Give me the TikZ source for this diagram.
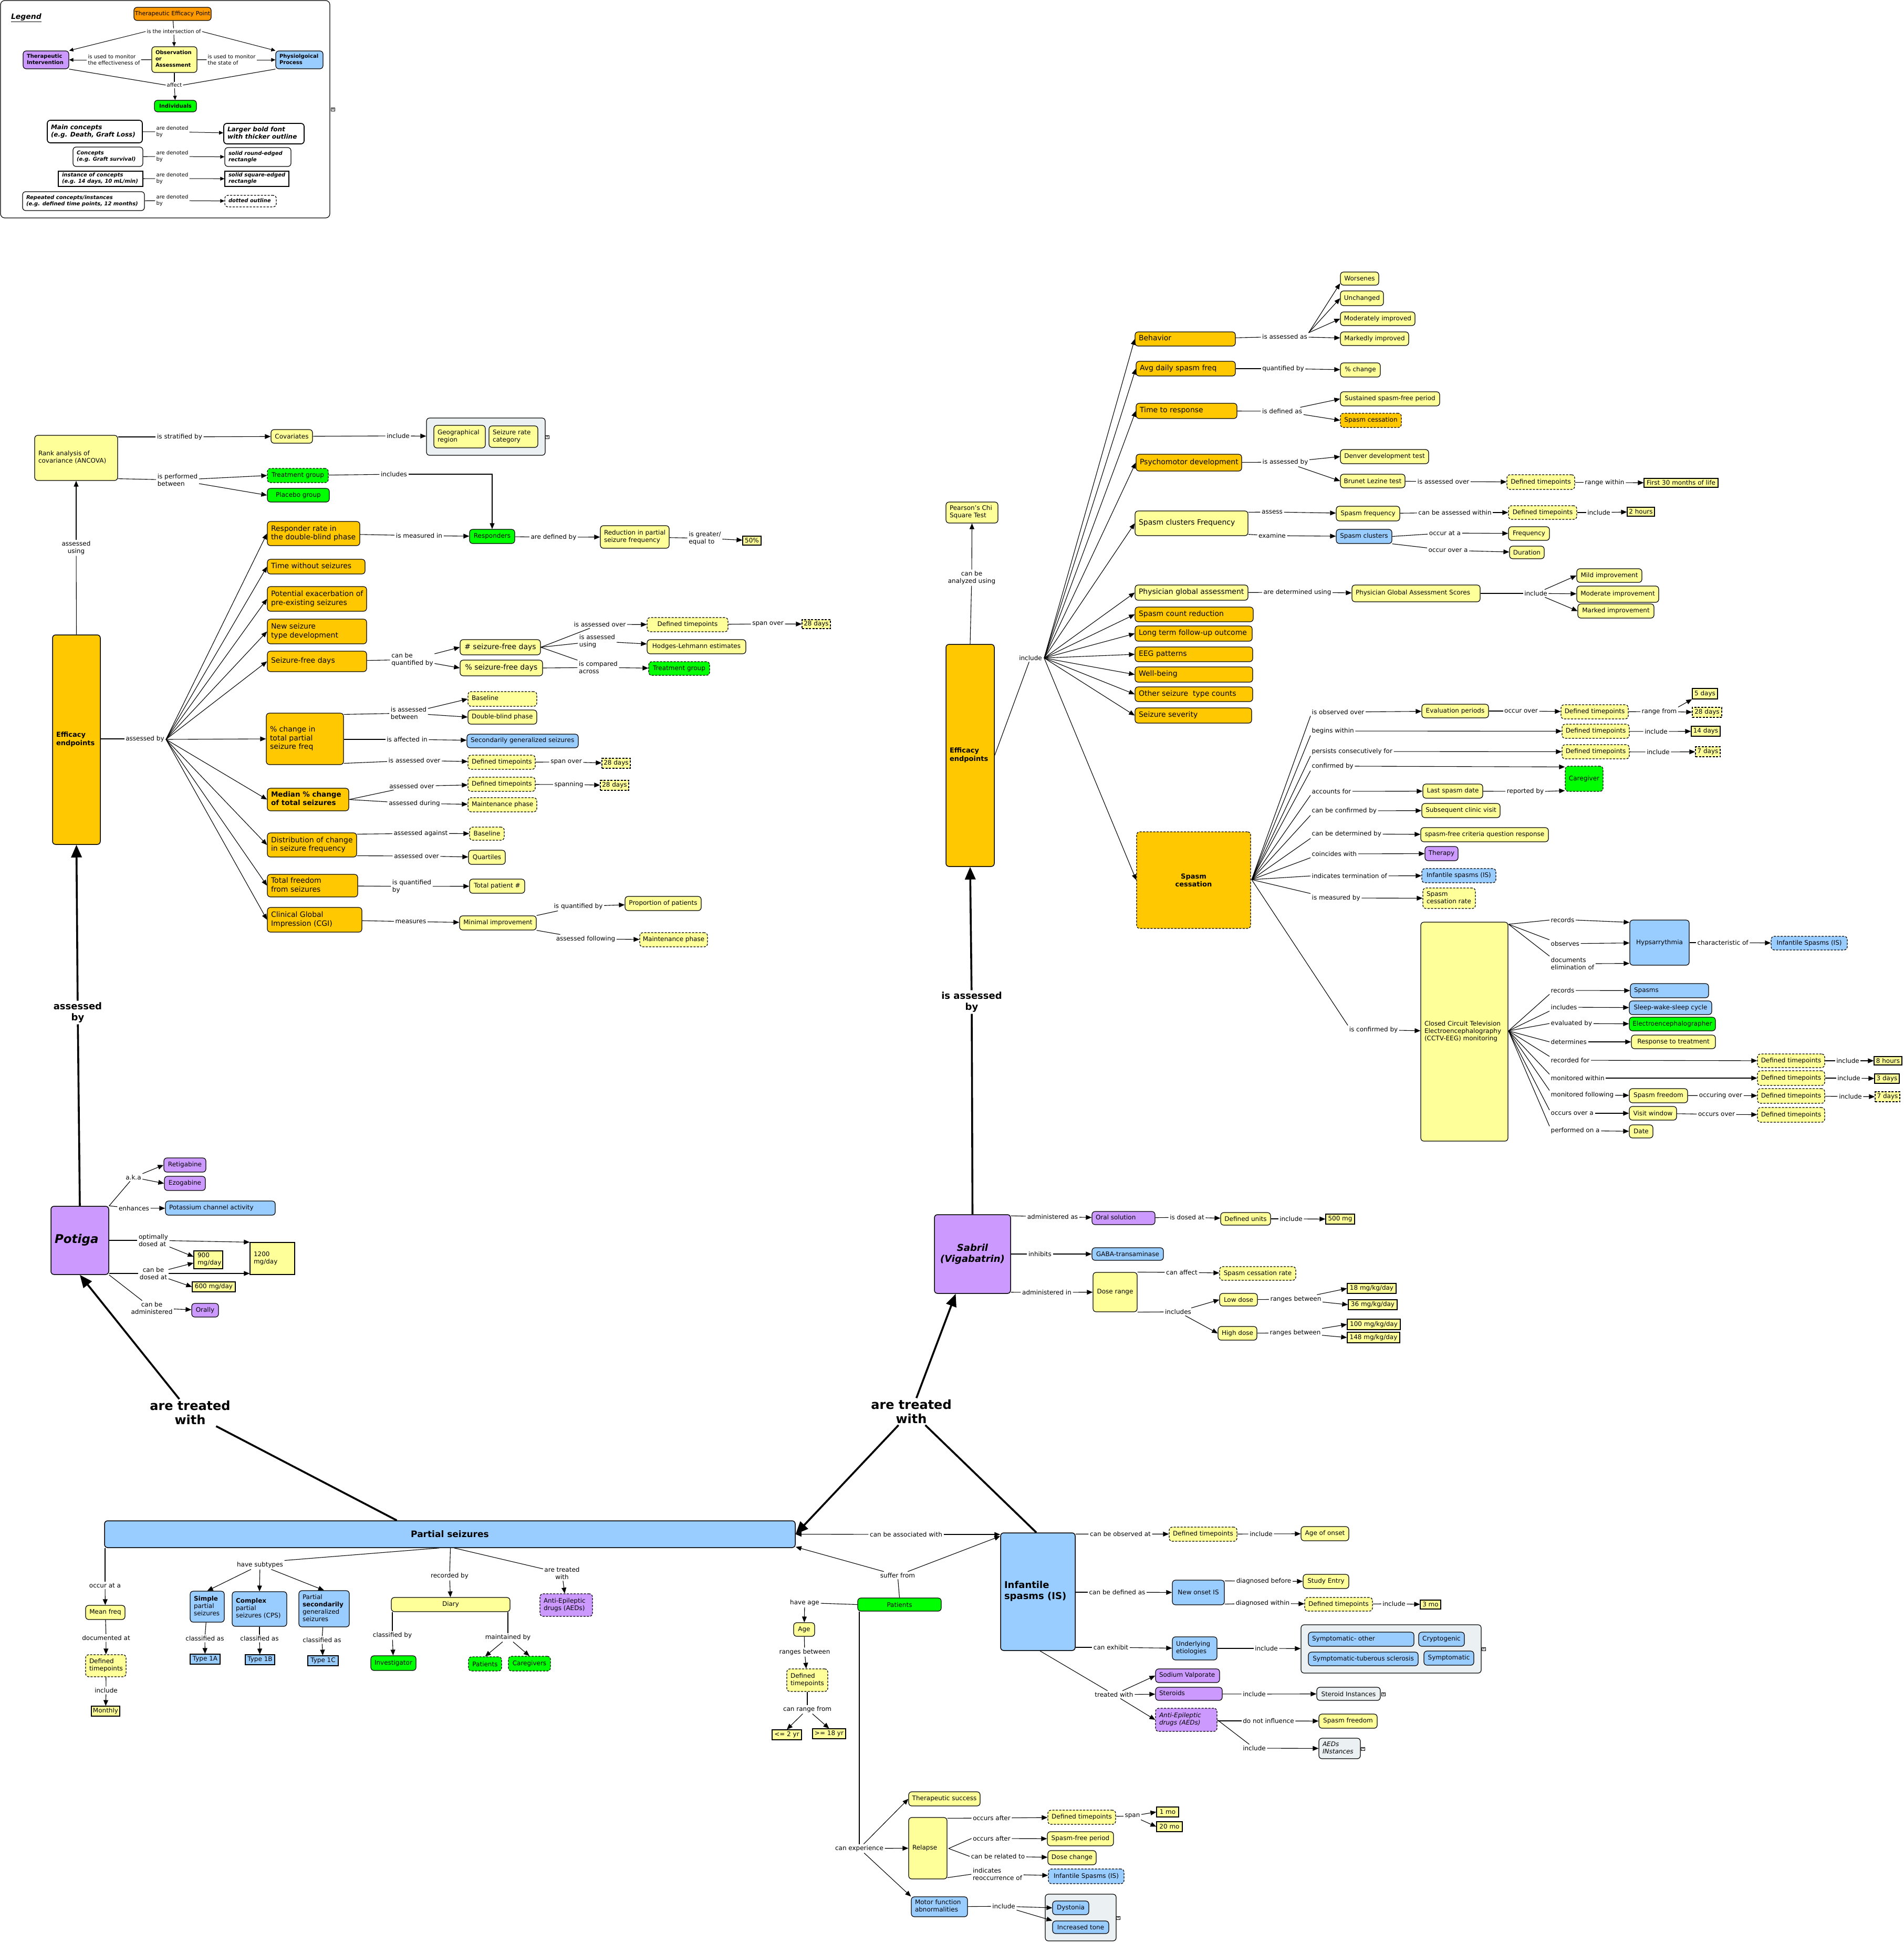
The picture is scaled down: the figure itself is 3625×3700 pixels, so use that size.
\documentclass[tikz,border=0pt]{standalone}
\usepackage{fontspec}
\setmainfont{DejaVu Sans}
\usetikzlibrary{arrows.meta}
\definecolor{cY}{HTML}{FFFF99}
\definecolor{cO}{HTML}{FFC800}
\definecolor{cP}{HTML}{CC99FF}
\definecolor{cB}{HTML}{99CCFF}
\definecolor{cG}{HTML}{00FF00}
\definecolor{cGr}{HTML}{EBF1F3}
\definecolor{cLO}{HTML}{FF9900}
\newcommand\BoxL[7]{\node[#6, minimum width={(#4-#2)*1pt}, minimum height={(#5-#3)*1pt}] (#1) at ({(#2+#4)/2},{(#3+#5)/2}) {\makebox[\dimexpr #4pt-#2pt-14pt\relax][l]{\begin{tabular}{@{}l@{}}#7\end{tabular}}};}
\newcommand\BoxC[7]{\node[#6, align=center, minimum width={(#4-#2)*1pt}, minimum height={(#5-#3)*1pt}] (#1) at ({(#2+#4)/2},{(#3+#5)/2}) {#7};}
\newcommand\Lab[4]{\node[lb] (#1) at (#2,#3) {#4};}
\newcommand\LabW[4]{\node[lb, anchor=west] (#1) at (#2,#3) {#4};}
\begin{document}
\begin{tikzpicture}[x=1pt,y=-1pt,
 base/.style={draw, line width=1.2pt, rounded corners=6pt, inner sep=0pt, font=\fontsize{12}{14}\selectfont},
 Y/.style={base, fill=cY}, O/.style={base, fill=cO, font=\fontsize{14}{16.5}\selectfont},
 P/.style={base, fill=cP}, B/.style={base, fill=cB}, G/.style={base, fill=cG},
 W/.style={base, fill=white}, GR/.style={base, fill=cGr},
 dsh/.style={dash pattern=on 4pt off 2.5pt}, sq/.style={sharp corners},
 lb/.style={font=\fontsize{12}{14}\selectfont, align=left, inner sep=2.5pt},
 lg/.style={font=\fontsize{10}{12}\selectfont, align=left, inner sep=2pt},
 bigl/.style={font=\fontsize{18}{21}\selectfont\bfseries, align=center, inner sep=3pt},
 hugel/.style={font=\fontsize{24}{27}\selectfont\bfseries, align=center, inner sep=3pt},
 ln/.style={line width=1.1pt},
 ar/.style={line width=1.1pt, -{Triangle[length=11pt,width=9pt]}},
 ars/.style={line width=1pt, -{Triangle[length=8pt,width=7pt]}},
 thk/.style={line width=3.6pt},
 thkar/.style={line width=3.6pt, -{Triangle[length=24pt,width=20pt]}},
 ico/.style={draw, line width=0.8pt, fill=white, inner sep=0.6pt, font=\fontsize{9}{9}\selectfont},
 LF/.style={font=\fontsize{10}{12}\selectfont\bfseries},
 LI/.style={font=\fontsize{10}{12}\selectfont\bfseries\itshape},
 LM/.style={font=\fontsize{12}{14.5}\selectfont\bfseries\itshape, line width=1.7pt}
]
\useasboundingbox (0,0) rectangle (3625,3700);

% ================= LEGEND =================
\draw[line width=1.2pt, rounded corners=8pt] (1,1) rectangle (628,415);
\node[font=\fontsize{14}{16}\selectfont\bfseries\itshape, inner sep=0pt] (legt) at (50,34) {\underline{Legend}};
\BoxC{lTEP}{255}{14}{402}{39}{base, fill=cLO, font=\fontsize{11}{13}\selectfont}{Therapeutic Efficacy Point}
\node[lg] (lL1) at (331,60) {is the intersection of};
\BoxL{lTI}{44}{97}{131}{131}{P, LF}{Therapeutic\\Intervention}
\BoxL{lOA}{289}{89}{375}{138}{Y, LF}{Observation\\or\\Assessment}
\BoxL{lPP}{525}{97}{615}{131}{B, LF}{Physiolgoical\\Process}
\node[lg] (lL2) at (217,114) {is used to monitor\\the effectiveness of};
\node[lg] (lL3) at (441,114) {is used to monitor\\the state of};
\node[lg] (lL4) at (332,162) {affect};
\BoxC{lInd}{294}{191}{374}{213}{G, LF}{Individuals}
\BoxL{lM1}{90}{229}{271}{272}{W, LM}{Main concepts\\(e.g. Death, Graft Loss)}
\node[lg] (lD1) at (328,251) {are denoted\\by};
\BoxL{lM2}{426}{235}{579}{274}{W, LM}{Larger bold font\\with thicker outline}
\BoxL{lC1}{139}{280}{272}{317}{W, LI}{Concepts\\(e.g. Graft survival)}
\node[lg] (lD2) at (328,298) {are denoted\\by};
\BoxL{lC2}{428}{281}{554}{317}{W, LI}{solid round-edged\\rectangle}
\BoxL{lI1}{111}{326}{272}{355}{W, sq, LI}{instance of concepts\\(e.g. 14 days, 10 mL/min)}
\node[lg] (lD3) at (328,340) {are denoted\\by};
\BoxL{lI2}{428}{326}{550}{355}{W, sq, LI}{solid square-edged\\rectangle}
\BoxL{lR1}{43}{365}{275}{401}{W, LI}{Repeated concepts/instances\\(e.g. defined time points, 12 months)}
\node[lg] (lD4) at (328,382) {are denoted\\by};
\BoxL{lR2}{428}{372}{526}{394}{W, dsh, LI}{dotted outline}
\node[ico] (lic) at (634,208) {«};

\draw[ln] (lTEP) -- (lL1);
\draw[ars] (lL1) -- (lOA);
\draw[ars] (lL1.west) -- (lTI.north east);
\draw[ars] (lL1.east) -- (lPP.north west);
\draw[ln] (lOA) -- (lL2); \draw[ars] (lL2) -- (lTI);
\draw[ln] (lOA) -- (lL3); \draw[ars] (lL3) -- (lPP);
\draw[ln] (lOA) -- (lL4); \draw[ln] (lTI.south east) -- (lL4.west); \draw[ln] (lPP.south west) -- (lL4.east);
\draw[ars] (lL4) -- (lInd);
\foreach \nA/\nB/\nC in {lM1/lD1/lM2, lC1/lD2/lC2, lI1/lD3/lI2, lR1/lD4/lR2} {\draw[ln] (\nA) -- (\nB); \draw[ars] (\nB) -- (\nC);}

% ================= LEFT: EFFICACY ENDPOINTS (POTIGA) =================
\BoxL{rank}{66}{829}{224}{915}{Y}{Rank analysis of\\covariance (ANCOVA)}
\Lab{l_strat}{342}{832}{is stratified by}
\BoxC{cov}{516}{818}{595}{844}{Y}{Covariates}
\Lab{l_incl1}{758}{830}{include}
\BoxC{grp1}{812}{796}{1038}{867}{GR}{}
\BoxL{geo}{826}{810}{924}{853}{Y}{Geographical\\region}
\BoxL{src}{931}{811}{1024}{852}{Y}{Seizure rate\\category}
\node[ico] (ic1) at (1042,832) {«};
\Lab{l_perf}{338}{914}{is performed\\between}
\BoxC{tg1}{509}{892}{625}{919}{G, dsh}{Treatment group}
\BoxC{pg}{509}{930}{627}{956}{G}{Placebo group}
\Lab{l_incs}{750}{903}{includes}
\BoxC{resp}{894}{1008}{980}{1035}{G}{Responders}
\BoxL{rr}{509}{993}{685}{1039}{O}{Responder rate in\\the double-blind phase}
\Lab{l_meas}{798}{1020}{is measured in}
\Lab{l_def}{1054}{1023}{are defined by}
\BoxL{red}{1143}{1001}{1274}{1044}{Y}{Reduction in partial\\seizure frequency}
\Lab{l_geq}{1342}{1025}{is greater/\\equal to}
\BoxC{p50}{1414}{1021}{1449}{1038}{Y, sq}{50\%}
\BoxL{twos}{509}{1065}{695}{1093}{O}{Time without seizures}
\BoxL{pex}{509}{1117}{698}{1164}{O}{Potential exacerbation of\\pre-existing seizures}
\BoxL{nsd}{509}{1179}{698}{1226}{O}{New seizure\\type development}
\BoxL{sfd}{509}{1240}{698}{1279}{O}{Seizure-free days}
\Lab{l_cbq}{785}{1256}{can be\\quantified by}
\BoxC{nsf}{876}{1218}{1029}{1247}{Y, font=\fontsize{14}{16.5}\selectfont}{\# seizure-free days}
\BoxC{psf}{876}{1257}{1033}{1287}{Y, font=\fontsize{14}{16.5}\selectfont}{\% seizure-free days}
\Lab{l_iao1}{1142}{1189}{is assessed over}
\BoxC{dt1}{1232}{1176}{1386}{1203}{Y, dsh}{Defined timepoints}
\Lab{l_spo1}{1462}{1188}{span over}
\BoxC{d28a}{1527}{1180}{1581}{1197}{Y, sq, dsh}{28 days}
\Lab{l_iau}{1137}{1221}{is assessed\\using}
\BoxC{hle}{1232}{1218}{1420}{1245}{Y}{Hodges-Lehmann estimates}
\Lab{l_ica}{1139}{1271}{is compared\\across}
\BoxC{tg2}{1235}{1260}{1351}{1286}{G, dsh}{Treatment group}

\BoxL{ee1}{100}{1209}{191}{1608}{O, line width=1.5pt, font=\fontsize{13}{15.5}\selectfont\bfseries}{Efficacy\\endpoints}
\node[lb, align=center] (l_au) at (145,1043) {assessed\\using};
\Lab{l_ab}{276}{1407}{assessed by}
\coordinate (hubL) at (316,1408);

\BoxL{pct}{507}{1358}{654}{1456}{O}{\% change in\\total partial\\seizure freq}
\Lab{l_iab}{778}{1358}{is assessed\\between}
\BoxL{bl1}{891}{1317}{1022}{1345}{Y, dsh}{Baseline}
\BoxL{dbp}{891}{1352}{1022}{1379}{Y}{Double-blind phase}
\Lab{l_iai}{775}{1408}{is affected in}
\BoxL{sgs}{889}{1398}{1101}{1424}{B}{Secondarily generalized seizures}
\Lab{l_iao2}{789}{1448}{is assessed over}
\BoxL{dt2}{891}{1438}{1019}{1465}{Y, dsh}{Defined timepoints}
\Lab{l_spo2}{1078}{1451}{span over}
\BoxC{d28b}{1146}{1444}{1200}{1463}{Y, sq, dsh}{28 days}
\BoxL{med}{509}{1501}{664}{1544}{O, font=\fontsize{13.5}{16}\selectfont\bfseries}{Median \% change\\of total seizures}
\Lab{l_ao1}{784}{1497}{assessed over}
\BoxL{dt3}{891}{1480}{1019}{1507}{Y, dsh}{Defined timepoints}
\Lab{l_spn}{1083}{1494}{spanning}
\BoxC{d28c}{1143}{1486}{1197}{1505}{Y, sq, dsh}{28 days}
\Lab{l_ad}{789}{1530}{assessed during}
\BoxL{mp1}{891}{1519}{1022}{1546}{Y, dsh}{Maintenance phase}
\BoxL{dist}{509}{1586}{679}{1632}{O}{Distribution of change\\in seizure frequency}
\Lab{l_aag}{801}{1587}{assessed against}
\BoxC{bl2}{894}{1575}{960}{1600}{Y, dsh}{Baseline}
\Lab{l_ao2}{793}{1630}{assessed over}
\BoxC{qrt}{892}{1619}{962}{1646}{Y}{Quartiles}
\BoxL{tff}{509}{1665}{681}{1708}{O}{Total freedom\\from seizures}
\Lab{l_iqb}{784}{1688}{is quantified\\by}
\BoxC{tpn}{894}{1674}{999}{1701}{Y}{Total patient \#}
\BoxL{cgi}{509}{1728}{689}{1775}{O}{Clinical Global\\Impression (CGI)}
\Lab{l_mea}{782}{1755}{measures}
\BoxC{mi}{875}{1744}{1021}{1771}{Y}{Minimal improvement}
\Lab{l_iqb2}{1101}{1726}{is quantified by}
\BoxC{pop}{1190}{1707}{1335}{1734}{Y}{Proportion of patients}
\Lab{l_af}{1115}{1788}{assessed following}
\BoxC{mp2}{1218}{1776}{1347}{1803}{Y, dsh}{Maintenance phase}

\node[bigl] (lb_ab) at (148,1928) {assessed\\by};

\draw[ln] (rank.east |- l_strat) -- (l_strat); \draw[ar] (l_strat) -- (cov);
\draw[ln] (cov) -- (l_incl1); \draw[ar] (l_incl1) -- (grp1);
\draw[ln] ([yshift=4pt]rank.south east) -- (l_perf); \draw[ar] (l_perf) -- (tg1.west); \draw[ar] (l_perf) -- (pg.west);
\draw[ln] (tg1) -- (l_incs); \draw[ar] (l_incs.east) -| (resp.north);
\draw[ln] (rr) -- (l_meas); \draw[ar] (l_meas) -- (resp);
\draw[ln] (resp) -- (l_def); \draw[ar] (l_def) -- (red);
\draw[ln] (red) -- (l_geq); \draw[ar] (l_geq) -- (p50);
\draw[ln] (ee1.north) -- (l_au); \draw[ar] (l_au) -- (rank.south);
\draw[ln] (ee1.east |- l_ab) -- (l_ab);
\foreach \nA in {rr,twos,pex,nsd,sfd,pct,med,dist,tff,cgi} {\draw[ar] (hubL) -- (\nA.west);}
\draw[ln] (sfd) -- (l_cbq); \draw[ar] (l_cbq) -- (nsf.west); \draw[ar] (l_cbq) -- (psf.west);
\draw[ln] (nsf.east) -- (l_iao1); \draw[ar] (l_iao1) -- (dt1);
\draw[ln] (nsf.east) -- (l_iau); \draw[ar] (l_iau) -- (hle);
\draw[ln] (nsf.east) -- (l_ica); \draw[ln] (psf.east) -- (l_ica); \draw[ar] (l_ica) -- (tg2);
\draw[ln] (dt1) -- (l_spo1); \draw[ar] (l_spo1) -- (d28a);
\draw[ln] ([yshift=-3pt]pct.north east) -- (l_iab); \draw[ar] (l_iab) -- (bl1.west); \draw[ar] (l_iab) -- (dbp.west);
\draw[ln] (pct.east |- l_iai) -- (l_iai); \draw[ar] (l_iai) -- (sgs);
\draw[ln] ([yshift=3pt]pct.south east) -- (l_iao2); \draw[ar] (l_iao2) -- (dt2);
\draw[ln] (dt2) -- (l_spo2); \draw[ar] (l_spo2) -- (d28b);
\draw[ln] (med.east) -- (l_ao1); \draw[ar] (l_ao1) -- (dt3);
\draw[ln] (dt3) -- (l_spn); \draw[ar] (l_spn) -- (d28c);
\draw[ln] (med.east) -- (l_ad); \draw[ar] (l_ad) -- (mp1);
\draw[ln] ([yshift=-3pt]dist.north east) -- (l_aag); \draw[ar] (l_aag) -- (bl2);
\draw[ln] ([yshift=3pt]dist.south east) -- (l_ao2); \draw[ar] (l_ao2) -- (qrt);
\draw[ln] (tff) -- (l_iqb); \draw[ar] (l_iqb) -- (tpn);
\draw[ln] (cgi) -- (l_mea); \draw[ar] (l_mea) -- (mi);
\draw[ln] (mi.north east) -- (l_iqb2); \draw[ar] (l_iqb2) -- (pop);
\draw[ln] (mi.south east) -- (l_af); \draw[ar] (l_af) -- (mp2);

% ================= POTIGA =================
\BoxL{pot}{97}{2297}{207}{2427}{P, line width=1.5pt, font=\fontsize{23}{27}\selectfont\bfseries\itshape}{Potiga}
\BoxC{ret}{312}{2205}{392}{2232}{P}{Retigabine}
\BoxC{ezo}{313}{2240}{391}{2267}{P}{Ezogabine}
\Lab{l_aka}{254}{2242}{a.k.a}
\Lab{l_enh}{255}{2301}{enhances}
\BoxL{pca}{315}{2287}{524}{2314}{B}{Potassium channel activity}
\Lab{l_opt}{292}{2362}{optimally\\dosed at}
\BoxL{m1200}{476}{2366}{561}{2427}{Y, sq}{1200\\mg/day}
\BoxL{m900}{369}{2382}{424}{2416}{Y, sq}{900\\mg/day}
\node[lb, align=center] (l_cbd) at (292,2425) {can be\\dosed at};
\BoxC{m600}{366}{2441}{448}{2460}{Y, sq}{600 mg/day}
\node[lb, align=center] (l_cba) at (289,2491) {can be\\administered};
\BoxC{orl}{365}{2482}{416}{2508}{P}{Orally}
\node[hugel] (lb_atw1) at (362,2690) {are treated\\with};

\draw[thk] (pot.north) -- (lb_ab); \draw[thkar] (lb_ab) -- (ee1.south);
\draw[ln] (pot.north east) -- (l_aka); \draw[ar] (l_aka) -- (ret.west); \draw[ar] (l_aka) -- (ezo.west);
\draw[ln] (pot.north east) -- (l_enh); \draw[ar] (l_enh) -- (pca);
\draw[ln] (pot.east |- l_opt) -- (l_opt); \draw[ar] (l_opt) -- (m1200.north west); \draw[ar] (l_opt) -- ([yshift=6pt]m900.west);
\draw[ln] (pot.east |- l_cbd) -- (l_cbd); \draw[ar] (l_cbd) -- ([yshift=-6pt]m900.west);
\draw[ar] (l_cbd) -- (m1200.west |- l_cbd); \draw[ar] (l_cbd) -- (m600.west);
\draw[ln] (pot.south east) -- (l_cba); \draw[ar] (l_cba) -- (orl);

% ================= PARTIAL SEIZURES =================
\BoxC{ps}{199}{2896}{1514}{2947}{B, line width=1.5pt, font=\fontsize{17}{20}\selectfont\bfseries}{Partial seizures}
\Lab{l_oca}{200}{3019}{occur at a}
\BoxC{mf}{163}{3057}{238}{3084}{Y}{Mean freq}
\Lab{l_doc}{202}{3119}{documented at}
\BoxL{dt4}{163}{3151}{240}{3193}{Y, dsh}{Defined\\timepoints}
\Lab{l_inc4}{202}{3219}{include}
\BoxC{mon}{174}{3249}{228}{3268}{Y, sq}{Monthly}
\Lab{l_hs}{495}{2980}{have subtypes}
\BoxL{sps}{362}{3030}{427}{3089}{B}{\textbf{Simple}\\partial\\seizures}
\BoxL{cps}{442}{3031}{546}{3097}{B}{\textbf{Complex}\\partial\\seizures (CPS)}
\BoxL{psg}{569}{3029}{665}{3098}{B}{Partial\\\textbf{secondarily}\\generalized\\seizures}
\Lab{l_ca1}{390}{3120}{classified as}
\Lab{l_ca2}{494}{3120}{classified as}
\Lab{l_ca3}{613}{3123}{classified as}
\BoxC{t1a}{362}{3150}{419}{3169}{B, sq}{Type 1A}
\BoxC{t1b}{467}{3151}{523}{3170}{B, sq}{Type 1B}
\BoxC{t1c}{586}{3153}{644}{3172}{B, sq}{Type 1C}
\Lab{l_rb}{856}{3001}{recorded by}
\BoxC{dia}{745}{3042}{971}{3069}{Y}{Diary}
\Lab{l_cb}{747}{3114}{classified by}
\BoxC{inv}{706}{3153}{792}{3181}{G}{Investigator}
\Lab{l_mb}{967}{3118}{maintained by}
\BoxC{pat1}{892}{3155}{955}{3182}{G, dsh}{Patients}
\BoxC{cgv}{968}{3154}{1048}{3182}{G, dsh}{Caregivers}
\node[lb, align=center] (l_atw) at (1070,2996) {are treated\\with};
\BoxL{aed1}{1028}{3035}{1128}{3078}{P, dsh}{Anti-Epileptic\\drugs (AEDs)}

\draw[thk] ([xshift=-101pt]ps.north) -- (lb_atw1); \draw[thkar] (lb_atw1) -- (pot.south);
\draw[ln] (l_oca |- ps.south) -- (l_oca); \draw[ar] (l_oca) -- (mf);
\draw[ln] (mf) -- (l_doc); \draw[ar] (l_doc) -- (dt4);
\draw[ln] (dt4) -- (l_inc4); \draw[ar] (l_inc4) -- (mon);
\draw[ln] ([xshift=-20pt]ps.south) -- (l_hs.north east);
\draw[ar] (l_hs) -- (sps.north); \draw[ar] (l_hs) -- (cps.north); \draw[ar] (l_hs) -- (psg.north);
\draw[ln] (sps) -- (l_ca1); \draw[ar] (l_ca1) -- (t1a);
\draw[ln] (cps) -- (l_ca2); \draw[ar] (l_ca2) -- (t1b);
\draw[ln] (psg) -- (l_ca3); \draw[ar] (l_ca3) -- (t1c);
\draw[ln] ([xshift=1pt]ps.south) -- (l_rb); \draw[ar] (l_rb) -- (dia);
\draw[ln] ([xshift=8pt]ps.south) -- (l_atw); \draw[ar] (l_atw) -- (aed1);
\draw[ln] (l_cb |- dia.south) -- (l_cb); \draw[ar] (l_cb) -- (inv);
\draw[ln] (l_mb |- dia.south) -- (l_mb); \draw[ar] (l_mb) -- (pat1.north); \draw[ar] (l_mb) -- (cgv.north);

% ================= PATIENTS =================
\BoxC{pat}{1633}{3043}{1792}{3068}{G}{Patients}
\Lab{l_suf}{1709}{3000}{suffer from}
\Lab{l_ha}{1532}{3052}{have age}
\BoxC{age}{1511}{3090}{1551}{3116}{Y}{Age}
\Lab{l_rbw}{1532}{3146}{ranges between}
\BoxL{dt5}{1498}{3178}{1576}{3221}{Y, dsh}{Defined\\timepoints}
\Lab{l_crf}{1537}{3255}{can range from}
\BoxC{le2}{1470}{3294}{1526}{3313}{Y, sq}{<= 2 yr}
\BoxC{ge18}{1547}{3292}{1610}{3311}{Y, sq}{>= 18 yr}
\Lab{l_ce}{1636}{3520}{can experience}
\BoxC{ts}{1730}{3412}{1866}{3439}{Y}{Therapeutic success}
\BoxL{rel}{1730}{3461}{1803}{3578}{Y}{Relapse}
\BoxL{mfa}{1735}{3612}{1842}{3650}{B}{Motor function\\abnormalities}
\Lab{l_oa1}{1888}{3462}{occurs after}
\BoxC{dt6}{1995}{3447}{2124}{3474}{Y, dsh}{Defined timepoints}
\Lab{l_span}{2156}{3458}{span}
\BoxC{mo1}{2202}{3441}{2244}{3460}{Y, sq}{1 mo}
\BoxC{mo20}{2202}{3469}{2251}{3488}{Y, sq}{20 mo}
\Lab{l_oa2}{1888}{3501}{occurs after}
\BoxC{sfp}{1994}{3488}{2120}{3515}{Y}{Spasm-free period}
\Lab{l_crt}{1900}{3535}{can be related to}
\BoxC{dc}{1995}{3524}{2087}{3551}{Y}{Dose change}
\Lab{l_iro}{1899}{3569}{indicates\\reoccurrence of}
\BoxC{isd1}{1996}{3559}{2140}{3587}{B, dsh}{Infantile Spasms (IS)}
\Lab{l_inc5}{1911}{3630}{include}
\BoxC{grp2}{1990}{3607}{2125}{3696}{GR}{}
\BoxC{dys}{2004}{3620}{2073}{3646}{B}{Dystonia}
\BoxC{itn}{2004}{3658}{2111}{3682}{B}{Increased tone}
\node[ico] (ic2) at (2129,3652) {«};
\coordinate (relh) at (1806,3520);

\draw[ln] (pat.north) -- (l_suf);
\draw[ar] (l_suf) -- ([yshift=2pt]ps.south east);
\draw[ln] (pat.west) -- (l_ha); \draw[ar] (l_ha) -- (age);
\draw[ln] (age) -- (l_rbw); \draw[ar] (l_rbw) -- (dt5);
\draw[ln] (dt5) -- (l_crf); \draw[ar] (l_crf) -- (le2.north); \draw[ar] (l_crf) -- (ge18.north);
\draw[ln] (l_ce |- pat.south) -- (l_ce);
\draw[ar] (l_ce) -- (ts.west); \draw[ar] (l_ce) -- (rel.west); \draw[ar] (l_ce) -- (mfa.north west);
\draw[ln] ([yshift=-2pt]rel.north east) -- (l_oa1); \draw[ar] (l_oa1) -- (dt6);
\draw[ln] (dt6) -- (l_span); \draw[ar] (l_span) -- (mo1.west); \draw[ar] (l_span) -- (mo20.west);
\draw[ln] (relh) -- (l_oa2.west); \draw[ar] (l_oa2) -- (sfp);
\draw[ln] (relh) -- (l_crt.west); \draw[ar] (l_crt) -- (dc);
\draw[ln] ([yshift=3pt]rel.south east) -- (l_iro.west); \draw[ar] (l_iro) -- (isd1);
\draw[ln] (mfa) -- (l_inc5); \draw[ar] (l_inc5) -- (dys.west); \draw[ar] (l_inc5) -- (itn.north west);

% ================= SABRIL =================
\BoxC{sab}{1779}{2313}{1924}{2463}{P, line width=1.5pt, font=\fontsize{18}{21}\selectfont\bfseries\itshape}{Sabril\\(Vigabatrin)}
\Lab{l_adas}{2004}{2317}{administered as}
\BoxL{ors}{2079}{2307}{2199}{2332}{P}{Oral solution}
\Lab{l_ida}{2260}{2318}{is dosed at}
\BoxC{du}{2324}{2309}{2419}{2333}{Y}{Defined units}
\Lab{l_inc6}{2458}{2321}{include}
\BoxC{m500}{2524}{2312}{2579}{2331}{Y, sq}{500 mg}
\Lab{l_inh}{1980}{2388}{inhibits}
\BoxC{gaba}{2079}{2376}{2215}{2400}{B}{GABA-transaminase}
\Lab{l_adin}{1993}{2461}{administered in}
\BoxC{dr}{2081}{2423}{2165}{2498}{Y}{Dose range}
\Lab{l_caf}{2250}{2423}{can affect}
\BoxC{scr1}{2322}{2412}{2467}{2438}{Y, dsh}{Spasm cessation rate}
\Lab{l_incs2}{2243}{2498}{includes}
\BoxC{ld}{2322}{2463}{2394}{2487}{Y}{Low dose}
\BoxC{hd}{2319}{2526}{2393}{2552}{Y}{High dose}
\Lab{l_rb1}{2467}{2474}{ranges between}
\BoxC{k18}{2565}{2444}{2658}{2463}{Y, sq}{18 mg/kg/day}
\BoxC{k36}{2567}{2475}{2660}{2494}{Y, sq}{36 mg/kg/day}
\Lab{l_rb2}{2466}{2538}{ranges between}
\BoxC{k100}{2565}{2512}{2666}{2532}{Y, sq}{100 mg/kg/day}
\BoxC{k148}{2565}{2537}{2665}{2557}{Y, sq}{148 mg/kg/day}
\node[hugel] (lb_atw2) at (1735,2688) {are treated\\with};
\Lab{l_cbaw}{1725}{2922}{can be associated with}

\draw[ln] ([yshift=-3pt]sab.north east) -- (l_adas); \draw[ar] (l_adas) -- (ors);
\draw[ln] (ors) -- (l_ida); \draw[ar] (l_ida) -- (du);
\draw[ln] (du) -- (l_inc6); \draw[ar] (l_inc6) -- (m500);
\draw[ln] (sab.east |- l_inh) -- (l_inh); \draw[ar] (l_inh) -- (gaba);
\draw[ln] ([yshift=3pt]sab.south east) -- (l_adin); \draw[ar] (l_adin) -- (dr);
\draw[ln] (dr.north east) -- (l_caf); \draw[ar] (l_caf) -- (scr1);
\draw[ln] (dr.south east) -- (l_incs2); \draw[ar] (l_incs2) -- (ld.west); \draw[ar] (l_incs2) -- (hd.west);
\draw[ln] (ld) -- (l_rb1); \draw[ar] (l_rb1) -- (k18.west); \draw[ar] (l_rb1) -- (k36.west);
\draw[ln] (hd) -- (l_rb2); \draw[ar] (l_rb2) -- (k100.west); \draw[ar] (l_rb2) -- (k148.west);

% ================= INFANTILE SPASMS =================
\BoxL{is}{1905}{2919}{2047}{3143}{B, line width=1.5pt, font=\fontsize{18}{21}\selectfont\bfseries}{Infantile\\spasms (IS)}
\Lab{l_cbo}{2133}{2921}{can be observed at}
\BoxC{dt7}{2226}{2908}{2355}{2935}{Y, dsh}{Defined timepoints}
\Lab{l_inc7}{2401}{2921}{include}
\BoxC{aoo}{2477}{2907}{2568}{2934}{Y}{Age of onset}
\Lab{l_cbd2}{2127}{3032}{can be defined as}
\BoxC{noi}{2232}{3009}{2331}{3056}{B}{New onset IS}
\Lab{l_db}{2406}{3011}{diagnosed before}
\BoxC{se}{2481}{2998}{2568}{3025}{Y}{Study Entry}
\Lab{l_dw}{2404}{3053}{diagnosed within}
\BoxC{dt8}{2484}{3042}{2613}{3068}{Y, dsh}{Defined timepoints}
\Lab{l_inc8}{2654}{3054}{include}
\BoxC{mo3}{2704}{3047}{2743}{3064}{Y, sq}{3 mo}
\Lab{l_ce2}{2115}{3137}{can exhibit}
\BoxL{ue}{2232}{3117}{2317}{3161}{B}{Underlying\\etiologies}
\Lab{l_inc9}{2411}{3139}{include}
\BoxC{grp3}{2477}{3094}{2820}{3186}{GR}{}
\BoxL{so}{2491}{3108}{2692}{3135}{B}{Symptomatic- other}
\BoxC{cry}{2701}{3108}{2788}{3135}{B}{Cryptogenic}
\BoxC{sts}{2491}{3146}{2700}{3172}{B}{Symptomatic-tuberous sclerosis}
\BoxC{sym}{2711}{3144}{2806}{3171}{B}{Symptomatic}
\node[ico] (ic3) at (2825,3140) {«};
\Lab{l_tw}{2121}{3227}{treated with}
\BoxL{sv}{2200}{3178}{2322}{3204}{P}{Sodium Valporate}
\BoxL{ste}{2200}{3213}{2327}{3238}{P}{Steroids}
\Lab{l_inc10}{2388}{3226}{include}
\BoxC{sti}{2507}{3213}{2628}{3238}{GR}{Steroid Instances}
\node[ico] (ic4) at (2634,3226) {»};
\BoxL{aed2}{2200}{3253}{2317}{3297}{P, dsh, font=\fontsize{12}{14}\selectfont\itshape}{Anti-Epileptic\\drugs (AEDs)}
\Lab{l_dni}{2415}{3277}{do not influence}
\BoxC{sfr1}{2511}{3264}{2622}{3291}{Y}{Spasm freedom}
\Lab{l_inc11}{2388}{3329}{include}
\BoxL{aedi}{2511}{3310}{2590}{3349}{GR, font=\fontsize{12}{14}\selectfont\itshape}{AEDs\\INstances}
\node[ico] (ic5) at (2595,3330) {»};

\draw[thk] ([xshift=-3pt]is.north) -- (lb_atw2);
\draw[thkar] (lb_atw2) -- ([xshift=-32pt]sab.south);
\draw[thkar] (lb_atw2) -- (ps.east);
\draw[ar] (l_cbaw) -- (ps.east); \draw[ar] (l_cbaw) -- (is.west |- l_cbaw);
\draw[ar] (l_suf) -- ([yshift=-7pt]is.north west);
\draw[ln] ([yshift=-3pt]is.north east) -- (l_cbo); \draw[ar] (l_cbo) -- (dt7);
\draw[ln] (dt7) -- (l_inc7); \draw[ar] (l_inc7) -- (aoo);
\draw[ln] (is.east |- l_cbd2) -- (l_cbd2); \draw[ar] (l_cbd2) -- (noi);
\draw[ln] ([yshift=-2pt]noi.north east) -- (l_db); \draw[ar] (l_db) -- (se);
\draw[ln] ([yshift=2pt]noi.south east) -- (l_dw); \draw[ar] (l_dw) -- (dt8);
\draw[ln] (dt8) -- (l_inc8); \draw[ar] (l_inc8) -- (mo3);
\draw[ln] (is.east |- l_ce2) -- (l_ce2); \draw[ar] (l_ce2) -- (ue);
\draw[ln] (ue) -- (l_inc9); \draw[ar] (l_inc9) -- (grp3);
\draw[ln] ([xshift=4pt]is.south) -- (l_tw);
\draw[ar] (l_tw) -- (sv.west); \draw[ar] (l_tw) -- (ste); \draw[ar] (l_tw) -- (aed2.west);
\draw[ln] (ste) -- (l_inc10); \draw[ar] (l_inc10) -- (sti);
\draw[ln] (aed2.east |- l_dni) -- (l_dni); \draw[ar] (l_dni) -- (sfr1);
\draw[ln] (aed2.east) -- (l_inc11); \draw[ar] (l_inc11) -- (aedi);

% ================= RIGHT: EFFICACY ENDPOINTS (SABRIL) =================
\BoxL{ee2}{1801}{1227}{1893}{1650}{O, line width=1.5pt, font=\fontsize{13}{15.5}\selectfont\bfseries}{Efficacy\\endpoints}
\BoxL{pcs}{1801}{956}{1900}{996}{Y}{Pearson's Chi\\Square Test}
\node[lb, align=center] (l_cba2) at (1850,1100) {can be\\analyzed using};
\Lab{l_inc12}{1962}{1253}{include}
\coordinate (hubR) at (1988,1253);
\node[bigl] (lb_iab) at (1850,1908) {is assessed\\by};

\BoxL{beh}{2161}{632}{2352}{659}{O}{Behavior}
\Lab{l_iaa}{2446}{641}{is assessed as}
\BoxC{wor}{2552}{518}{2625}{543}{Y}{Worsenes}
\BoxC{unc}{2552}{554}{2634}{582}{Y}{Unchanged}
\BoxC{mod}{2552}{594}{2694}{620}{Y}{Moderately improved}
\BoxC{mar}{2552}{632}{2682}{658}{Y}{Markedly improved}
\BoxL{avg}{2163}{688}{2352}{716}{O}{Avg daily spasm freq}
\Lab{l_qb}{2443}{702}{quantified by}
\BoxC{pch}{2552}{691}{2628}{718}{Y}{\% change}
\BoxL{ttr}{2163}{768}{2355}{797}{O}{Time to response}
\Lab{l_ida2}{2441}{783}{is defined as}
\BoxC{ssp}{2552}{746}{2741}{773}{Y}{Sustained spasm-free period}
\BoxC{scs}{2552}{787}{2668}{814}{O, dsh, font=\fontsize{12}{14}\selectfont}{Spasm cessation}
\BoxL{psy}{2163}{865}{2364}{897}{O}{Psychomotor development}
\Lab{l_iab2}{2447}{880}{is assessed by}
\BoxC{ddt}{2552}{856}{2720}{883}{Y}{Denver development test}
\BoxC{blt}{2552}{903}{2675}{929}{Y}{Brunet Lezine test}
\Lab{l_iao3}{2748}{917}{is assessed over}
\BoxC{dt9}{2869}{904}{2998}{932}{Y, dsh}{Defined timepoints}
\Lab{l_rw}{3055}{919}{range within}
\BoxC{f30}{3130}{911}{3271}{928}{Y, sq}{First 30 months of life}
\BoxL{scf}{2161}{973}{2376}{1020}{Y, font=\fontsize{14}{16.5}\selectfont}{Spasm clusters Frequency}
\Lab{l_as}{2422}{975}{assess}
\BoxC{sfq}{2544}{964}{2665}{992}{Y}{Spasm frequency}
\Lab{l_cbaw2}{2770}{976}{can be assessed within}
\BoxC{dt10}{2872}{963}{3002}{989}{Y, dsh}{Defined timepoints}
\Lab{l_inc13}{3044}{976}{include}
\BoxC{h2}{3098}{966}{3150}{983}{Y, sq}{2 hours}
\Lab{l_ex}{2422}{1020}{examine}
\BoxC{scl}{2544}{1008}{2650}{1035}{B}{Spasm clusters}
\Lab{l_oaa}{2751}{1015}{occur at a}
\BoxC{frq}{2872}{1003}{2950}{1029}{Y}{Frequency}
\Lab{l_ooa}{2757}{1048}{occur over a}
\BoxC{dur}{2874}{1040}{2940}{1064}{Y}{Duration}
\BoxL{pga}{2161}{1114}{2376}{1143}{Y, font=\fontsize{14}{16.5}\selectfont}{Physician global assessment}
\Lab{l_adu}{2470}{1128}{are determined using}
\BoxL{pgs}{2574}{1114}{2818}{1146}{Y}{Physician Global Assessment Scores}
\Lab{l_inc14}{2924}{1130}{include}
\BoxC{mil}{3002}{1083}{3126}{1109}{Y}{Mild improvement}
\BoxC{moi}{3002}{1116}{3158}{1147}{Y}{Moderate improvement}
\BoxC{mai}{3004}{1150}{3149}{1177}{Y}{Marked improvement}
\BoxL{scr}{2161}{1156}{2386}{1184}{O}{Spasm count reduction}
\BoxL{ltf}{2161}{1192}{2384}{1221}{O}{Long term follow-up outcome}
\BoxL{eeg}{2161}{1232}{2385}{1260}{O}{EEG patterns}
\BoxL{wb}{2161}{1270}{2385}{1299}{O}{Well-being}
\BoxL{osc}{2161}{1308}{2385}{1336}{O}{Other seizure\ \ type counts}
\BoxL{ssv}{2161}{1348}{2383}{1377}{O}{Seizure severity}
\BoxC{sc}{2164}{1584}{2381}{1768}{O, dsh, font=\fontsize{13}{15.5}\selectfont\bfseries}{Spasm\\cessation}

\draw[thk] (sab.north) -- (lb_iab); \draw[thkar] (lb_iab) -- (ee2.south);
\draw[ln] (ee2.north) -- (l_cba2); \draw[ar] (l_cba2) -- (pcs.south);
\draw[ln] (ee2.east) -- (l_inc12);
\foreach \nA in {beh,avg,ttr,psy,scf,pga,scr,ltf,eeg,wb,osc,ssv,sc} {\draw[ar] (hubR) -- (\nA.west);}
\draw[ln] (beh) -- (l_iaa);
\draw[ar] (l_iaa.north east) -- ([yshift=4pt]wor.south west);
\draw[ar] (l_iaa.north east) -- (unc.west);
\draw[ar] (l_iaa.north east) -- (mod.west);
\draw[ar] (l_iaa) -- (mar);
\draw[ln] (avg) -- (l_qb); \draw[ar] (l_qb) -- (pch);
\draw[ln] (ttr) -- (l_ida2); \draw[ar] (l_ida2) -- (ssp.west); \draw[ar] (l_ida2) -- (scs.west);
\draw[ln] (psy) -- (l_iab2); \draw[ar] (l_iab2) -- (ddt.west); \draw[ar] (l_iab2) -- (blt.west);
\draw[ln] (blt) -- (l_iao3); \draw[ar] (l_iao3) -- (dt9);
\draw[ln] (dt9) -- (l_rw); \draw[ar] (l_rw) -- (f30);
\draw[ln] ([yshift=-3pt]scf.north east) -- (l_as); \draw[ar] (l_as) -- (sfq);
\draw[ln] ([yshift=3pt]scf.south east) -- (l_ex); \draw[ar] (l_ex) -- (scl);
\draw[ln] (sfq) -- (l_cbaw2); \draw[ar] (l_cbaw2) -- (dt10);
\draw[ln] (dt10) -- (l_inc13); \draw[ar] (l_inc13) -- (h2);
\draw[ln] (scl.east) -- (l_oaa); \draw[ar] (l_oaa) -- (frq);
\draw[ln] (scl.south east) -- (l_ooa); \draw[ar] (l_ooa) -- (dur);
\draw[ln] (pga) -- (l_adu); \draw[ar] (l_adu) -- (pgs);
\draw[ln] (pgs) -- (l_inc14); \draw[ar] (l_inc14) -- (mil.west); \draw[ar] (l_inc14) -- (moi); \draw[ar] (l_inc14) -- (mai.west);

% ================= SPASM CESSATION =================
\coordinate (hubS) at (2383,1675);
\LabW{l_ioo}{2495}{1356}{is observed over}
\BoxC{evp}{2707}{1341}{2834}{1367}{Y}{Evaluation periods}
\Lab{l_oo}{2896}{1354}{occur over}
\BoxC{dt11}{2972}{1342}{3100}{1369}{Y, dsh}{Defined timepoints}
\Lab{l_rf}{3159}{1355}{range from}
\BoxC{d5}{3222}{1311}{3270}{1331}{Y, sq}{5 days}
\BoxC{d28d}{3222}{1347}{3278}{1366}{Y, sq, dsh}{28 days}
\LabW{l_bw}{2495}{1392}{begins within}
\BoxC{dt12}{2974}{1379}{3102}{1406}{Y, dsh}{Defined timepoints}
\Lab{l_inc15}{3153}{1393}{include}
\BoxC{d14}{3220}{1383}{3275}{1402}{Y, sq}{14 days}
\LabW{l_pcf}{2495}{1431}{persists consecutively for}
\BoxC{dt13}{2974}{1418}{3102}{1445}{Y, dsh}{Defined timepoints}
\Lab{l_inc16}{3157}{1432}{include}
\BoxC{d7a}{3228}{1422}{3275}{1441}{Y, sq, dsh}{7 days}
\LabW{l_cfb}{2495}{1459}{confirmed by}
\BoxC{cg}{2980}{1459}{3052}{1507}{G, dsh}{Caregiver}
\LabW{l_acf}{2495}{1507}{accounts for}
\BoxC{lsd}{2709}{1493}{2823}{1520}{Y}{Last spasm date}
\Lab{l_rpb}{2904}{1507}{reported by}
\LabW{l_cbcb}{2495}{1544}{can be confirmed by}
\BoxC{scv}{2707}{1530}{2856}{1557}{Y}{Subsequent clinic visit}
\LabW{l_cbdb}{2495}{1588}{can be determined by}
\BoxC{sfc}{2705}{1576}{2948}{1603}{Y}{spasm-free criteria question response}
\LabW{l_cw}{2495}{1626}{coincides with}
\BoxC{thr}{2713}{1612}{2776}{1639}{P}{Therapy}
\LabW{l_ito}{2495}{1668}{indicates termination of}
\BoxC{isd2}{2707}{1654}{2848}{1681}{B, dsh}{Infantile spasms (IS)}
\LabW{l_imb}{2495}{1710}{is measured by}
\BoxL{scr2}{2709}{1691}{2809}{1730}{Y, dsh}{Spasm\\cessation rate}
\Lab{l_icb}{2615}{1961}{is confirmed by}

\foreach \nA/\nB in {l_ioo/south west, l_bw/south west, l_pcf/south west, l_cfb/south west, l_acf/south west, l_cbcb/south west, l_cbdb/south west, l_cw/south west, l_ito/west, l_imb/north west, l_icb/north west} {\draw[ln] (hubS) -- (\nA.\nB);}
\draw[ar] (l_ioo) -- (evp); \draw[ln] (evp) -- (l_oo); \draw[ar] (l_oo) -- (dt11);
\draw[ln] (dt11) -- (l_rf); \draw[ar] (l_rf.north east) -- (d5.south west); \draw[ar] (l_rf) -- (d28d);
\draw[ar] (l_bw) -- (dt12); \draw[ln] (dt12) -- (l_inc15); \draw[ar] (l_inc15) -- (d14);
\draw[ar] (l_pcf) -- (dt13); \draw[ln] (dt13) -- (l_inc16); \draw[ar] (l_inc16) -- (d7a);
\draw[ar] (l_cfb.east) -- ([yshift=-2pt]cg.north west);
\draw[ar] (l_acf) -- (lsd); \draw[ln] (lsd) -- (l_rpb); \draw[ar] (l_rpb.east) -- ([yshift=2pt]cg.south west);
\draw[ar] (l_cbcb) -- (scv);
\draw[ar] (l_cbdb) -- (sfc);
\draw[ar] (l_cw) -- (thr);
\draw[ar] (l_ito) -- (isd2);
\draw[ar] (l_imb) -- (scr2);

% ================= CCTV =================
\BoxL{cctv}{2705}{1756}{2871}{2173}{Y}{Closed Circuit Television\\Electroencephalography\\(CCTV-EEG) monitoring}
\draw[ar] (l_icb) -- (cctv);
\coordinate (hubC1) at (2872,1760);
\coordinate (hubC2) at (2872,1963);
\LabW{l_rec1}{2950}{1752}{records}
\LabW{l_obs}{2950}{1797}{observes}
\LabW{l_del}{2950}{1835}{documents\\elimination of}
\BoxC{hyp}{3103}{1752}{3216}{1838}{B}{Hypsarrythmia}
\Lab{l_cof}{3280}{1795}{characteristic of}
\BoxC{isd3}{3372}{1783}{3517}{1809}{B, dsh}{Infantile Spasms (IS)}
\LabW{l_rec2}{2950}{1886}{records}
\BoxL{spm}{3104}{1873}{3253}{1900}{B}{Spasms}
\LabW{l_inc17}{2950}{1918}{includes}
\BoxC{swc}{3102}{1906}{3259}{1932}{B}{Sleep-wake-sleep cycle}
\LabW{l_evb}{2950}{1949}{evaluated by}
\BoxC{eeger}{3102}{1937}{3266}{1963}{G}{Electroencephalographer}
\LabW{l_det}{2950}{1984}{determines}
\BoxC{rtt}{3106}{1971}{3266}{1997}{Y}{Response to treatment}
\LabW{l_rf2}{2950}{2019}{recorded for}
\BoxC{dt14}{3346}{2007}{3474}{2033}{Y, dsh}{Defined timepoints}
\Lab{l_inc18}{3518}{2020}{include}
\BoxC{h8}{3568}{2012}{3621}{2028}{Y, sq}{8 hours}
\LabW{l_mw}{2950}{2053}{monitored within}
\BoxC{dt15}{3346}{2039}{3474}{2067}{Y, dsh}{Defined timepoints}
\Lab{l_inc19}{3520}{2053}{include}
\BoxC{d3}{3569}{2045}{3616}{2063}{Y, sq}{3 days}
\LabW{l_mf}{2950}{2085}{monitored following}
\BoxC{sfr2}{3102}{2073}{3213}{2100}{Y}{Spasm freedom}
\Lab{l_oco}{3276}{2086}{occuring over}
\BoxC{dt16}{3346}{2073}{3474}{2101}{Y, dsh}{Defined timepoints}
\Lab{l_inc20}{3523}{2088}{include}
\BoxC{d7b}{3570}{2079}{3617}{2098}{Y, sq, dsh}{7 days}
\LabW{l_oova}{2950}{2120}{occurs over a}
\BoxC{vw}{3102}{2107}{3192}{2133}{Y}{Visit window}
\Lab{l_oov}{3268}{2122}{occurs over}
\BoxC{dt17}{3346}{2109}{3474}{2137}{Y, dsh}{Defined timepoints}
\LabW{l_poa}{2950}{2153}{performed on a}
\BoxC{dat}{3102}{2142}{3147}{2167}{Y}{Date}

\draw[ln] (hubC1) -- (l_rec1.west); \draw[ln] (hubC1) -- (l_obs.north west); \draw[ln] (hubC1) -- (l_del.north west);
\draw[ar] (l_rec1.east) -- ([yshift=-5pt]hyp.north west);
\draw[ar] (l_obs) -- (hyp);
\draw[ar] (l_del.east) -- ([yshift=4pt]hyp.south west);
\draw[ln] (hyp) -- (l_cof); \draw[ar] (l_cof) -- (isd3);
\foreach \nA/\nB in {l_rec2/south west, l_inc17/south west, l_evb/west, l_det/west, l_rf2/north west, l_mw/north west, l_mf/north west, l_oova/north west, l_poa/north west} {\draw[ln] (hubC2) -- (\nA.\nB);}
\foreach \nA/\nB in {l_rec2/spm, l_inc17/swc, l_evb/eeger, l_det/rtt, l_rf2/dt14, l_mw/dt15, l_mf/sfr2, l_oova/vw, l_poa/dat} {\draw[ar] (\nA) -- (\nB);}
\draw[ln] (dt14) -- (l_inc18); \draw[ar] (l_inc18) -- (h8);
\draw[ln] (dt15) -- (l_inc19); \draw[ar] (l_inc19) -- (d3);
\draw[ln] (sfr2) -- (l_oco); \draw[ar] (l_oco) -- (dt16);
\draw[ln] (dt16) -- (l_inc20); \draw[ar] (l_inc20) -- (d7b);
\draw[ln] (vw) -- (l_oov); \draw[ar] (l_oov) -- (dt17);
\end{tikzpicture}
\end{document}
